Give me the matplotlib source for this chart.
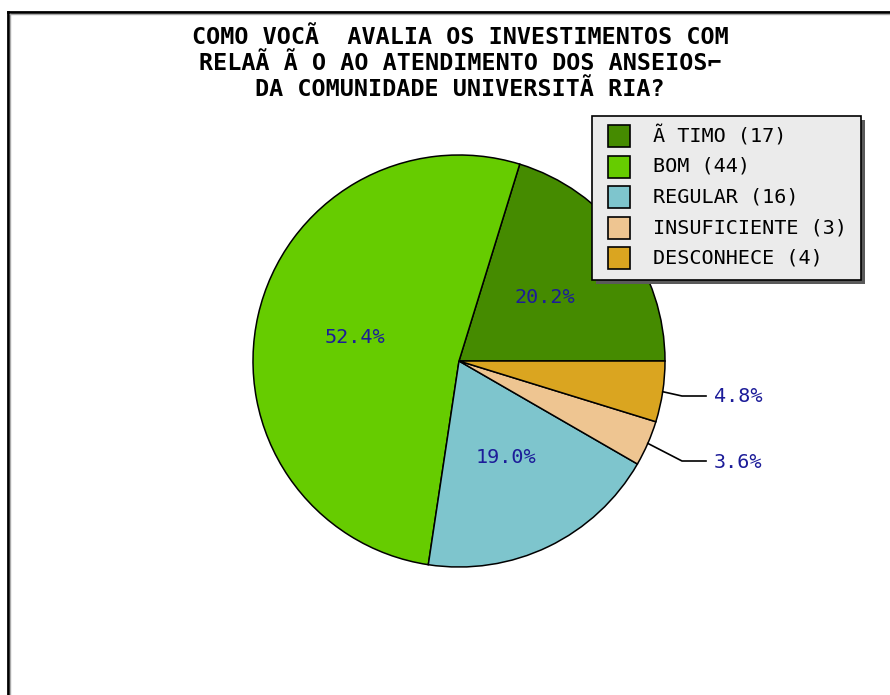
import numpy as np
import matplotlib
matplotlib.use("Agg")
import matplotlib.pyplot as plt
from matplotlib.lines import Line2D
from matplotlib.patches import Rectangle

# ---- data ----
categories = ["Ã TIMO", "BOM", "REGULAR", "INSUFICIENTE", "DESCONHECE"]
counts = [17, 44, 16, 3, 4]
colors = ["#458B00", "#66CC00", "#7EC5CD", "#EEC591", "#DAA520"]
title_lines = ["COMO VOCÃ  AVALIA OS INVESTIMENTOS COM",
               "RELAÃ Ã O AO ATENDIMENTO DOS ANSEIOS⌐",
               "DA COMUNIDADE UNIVERSITÃ RIA?"]

W, H = 890, 695
FONT = "DejaVu Sans Mono"
LABEL_COLOR = "#1C1C99"

fig = plt.figure(figsize=(W / 100, H / 100), dpi=100)
ax = fig.add_axes([0, 0, 1, 1])

def Y(y):
    return H - y

cx, cy, r = 459, 361, 206
total = sum(counts)

def autopct(p):
    return f"{p:.1f}%" if p >= 10 else ""

wedges, texts, autotexts = ax.pie(
    counts, colors=colors, startangle=0, counterclock=True,
    center=(cx, Y(cy)), radius=r, frame=True,
    autopct=autopct, pctdistance=0.52,
    wedgeprops=dict(edgecolor="black", linewidth=1.1),
    textprops=dict(color=LABEL_COLOR, fontsize=14.5, family=FONT))

# outside labels for small slices
label_y = {3: 462, 4: 397}
cum = np.cumsum([0] + counts)
for i, ly in label_y.items():
    mid = np.deg2rad((cum[i] + counts[i] / 2) / total * 360)
    ex = cx + r * np.cos(mid)
    ey = Y(cy) + r * np.sin(mid)
    x_end = cx + r + 41
    elbow_x = x_end - 24
    ax.plot([ex, elbow_x, x_end], [ey, Y(ly) + 1, Y(ly) + 1], color="black", lw=1.2)
    ax.text(x_end + 8, Y(ly), f"{counts[i] / total * 100:.1f}%", color=LABEL_COLOR,
            fontsize=14.5, family=FONT, ha="left", va="center")

ax.set_xlim(0, W)
ax.set_ylim(0, H)
ax.set_aspect("equal")
ax.axis("off")

# title
for k, line in enumerate(title_lines):
    ax.text(460, Y(38 + k * 25.5), line, ha="center", va="center",
            fontsize=16.8, fontweight="bold", family=FONT, color="black")

# legend (drawn as a boxed key)
lx0, ly0, lx1, ly1 = 592, 116, 861, 280
ax.add_patch(Rectangle((lx0 + 4, Y(ly1 + 4)), lx1 - lx0, ly1 - ly0,
                       facecolor="#5A5A5A", edgecolor="none", zorder=5))
ax.add_patch(Rectangle((lx0, Y(ly1)), lx1 - lx0, ly1 - ly0,
                       facecolor="#EBEBEB", edgecolor="black", lw=1.2, zorder=6))
row0, dy, sq = 136, 30.5, 22
for k, (c, n, col) in enumerate(zip(categories, counts, colors)):
    yc = row0 + k * dy
    ax.add_patch(Rectangle((608, Y(yc + sq / 2)), sq, sq, facecolor=col,
                           edgecolor="black", lw=1.2, zorder=7))
    ax.text(653, Y(yc), f"{c} ({n})", ha="left", va="center",
            fontsize=14.5, family=FONT, color="black", zorder=8)

# outer frame
fig.add_artist(Line2D([8 / W, 8 / W], [0, 1 - 12 / H], transform=fig.transFigure, color="black", lw=2))
fig.add_artist(Line2D([8 / W, 1], [1 - 12 / H, 1 - 12 / H], transform=fig.transFigure, color="black", lw=2))
fig.add_artist(Line2D([10 / W, 10 / W], [0, 1 - 14 / H], transform=fig.transFigure, color="#AAAAAA", lw=1))
fig.add_artist(Line2D([10 / W, 1], [1 - 14 / H, 1 - 14 / H], transform=fig.transFigure, color="#AAAAAA", lw=1))

fig.savefig("out.png", dpi=100)
